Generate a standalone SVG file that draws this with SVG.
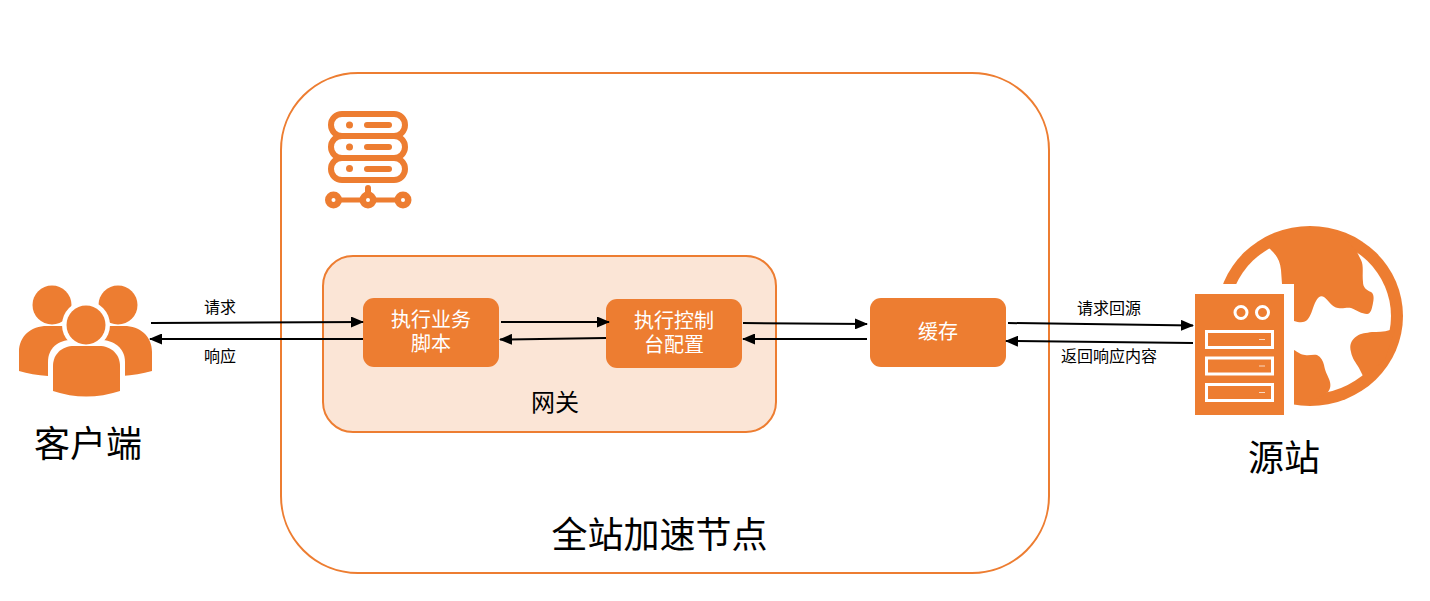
<svg xmlns="http://www.w3.org/2000/svg" width="1430" height="601" viewBox="0 0 1430 601">
<style>
text{font-family:"Liberation Sans","Noto Sans CJK SC",sans-serif;text-anchor:middle;fill:#000}
.o{fill:#ED7D31}
.b{fill:#ED7D31}
.w{fill:#fff;font-size:20px}
.xl{font-size:36px}
.s{font-size:16px}
.c{fill:none;stroke:#000;stroke-width:2;marker-end:url(#a)}
.sv{fill:none;stroke:#ED7D31;stroke-width:6}
</style>
<defs><marker id="a" markerUnits="userSpaceOnUse" markerWidth="13" markerHeight="11" refX="12" refY="5.5" orient="auto"><path d="M0 0L13 5.5L0 11Z" fill="#000"/></marker></defs>
<rect width="1430" height="601" fill="#fff"/>
<g id="edge-node">
<rect x="281" y="73" width="768" height="500" rx="77" fill="#fff" stroke="#ED7D31" stroke-width="2"/>
<text class="xl" x="659.500" y="548">全站加速节点</text>
</g>
<g id="gateway-icon">
<rect class="sv" x="331" y="114" width="74" height="22" rx="11"/>
<rect class="sv" x="331" y="136" width="74" height="22" rx="11"/>
<rect class="sv" x="331" y="158" width="74" height="22" rx="11"/>
<g class="o">
<circle cx="349.500" cy="125" r="3.500"/><circle cx="349.500" cy="147" r="3.500"/><circle cx="349.500" cy="168.500" r="3.500"/>
<rect x="364" y="122" width="28" height="6" rx="3"/><rect x="364" y="144" width="28" height="6" rx="3"/><rect x="364" y="166" width="28" height="6" rx="3"/>
<rect x="365" y="185" width="6" height="14" rx="3"/>
<rect x="333" y="197.500" width="70" height="5"/>
<circle cx="333.500" cy="200" r="8.500"/><circle cx="368" cy="200" r="8.500"/><circle cx="403" cy="200" r="8.500"/>
</g>
<circle cx="333.500" cy="200" r="2" fill="#fff"/><circle cx="368" cy="200" r="2" fill="#fff"/><circle cx="403" cy="200" r="2" fill="#fff"/>
</g>
<g id="gateway">
<rect x="323" y="256" width="453" height="176" rx="30" fill="#FBE5D6" stroke="#ED7D31" stroke-width="2"/>
<text x="555" y="411" font-size="24">网关</text>
</g>
<g id="script">
<rect class="b" x="363" y="298" width="136" height="69" rx="11"/>
<text class="w" x="431" y="327">执行业务<tspan x="431" dy="24">脚本</tspan></text>
</g>
<g id="console">
<rect class="b" x="606" y="299" width="136" height="69" rx="11"/>
<text class="w" x="674" y="328">执行控制<tspan x="674" dy="24">台配置</tspan></text>
</g>
<g id="cache">
<rect class="b" x="870" y="298" width="136" height="69" rx="11"/>
<text class="w" x="938" y="339">缓存</text>
</g>
<g id="client">
<g class="o">
<circle cx="52" cy="305" r="19.500"/><circle cx="118" cy="305" r="19.500"/>
<path d="M19 371V352C19 336 31 326 47 326H70L72 326Q76 340 90 346L90 380L48 376Q32 375 19 371Z"/>
<path d="M152 371V352C152 336 140 326 124 326H100L98 326Q94 340 80 346L80 380L122 376Q138 375 152 371Z"/>
</g>
<path d="M48 398V362C48 348 58 340 72 340H100C114 340 125 348 125 362V398Z" fill="#fff"/>
<circle cx="86" cy="325" r="24" fill="#fff"/>
<circle class="o" cx="86" cy="325" r="19.500"/>
<path class="o" d="M53 391V366C53 354 62 346 74 346H99C111 346 120 354 120 366V391Q86 402 53 391Z"/>
<text class="xl" x="88" y="457">客户端</text>
</g>
<g id="origin">
<ellipse class="o" cx="1310" cy="316" rx="93" ry="90"/>
<ellipse cx="1310" cy="316" rx="81" ry="78" fill="#fff"/>
<path class="o" d="M1269 248C1276 254 1280 260 1281 270L1282 284H1294V321C1300 323 1305 323 1308 319C1312 314 1313 306 1316 301C1318 297 1321 295 1324 297C1329 301 1332 307 1338 308C1343 309 1347 307 1351 308C1356 310 1362 314 1367 314C1371 314 1372 308 1373 303C1374 298 1374 294 1371 292C1366 290 1363 287 1363 282C1362 274 1364 266 1361 260L1357 252L1340 232H1285Z"/>
<path class="o" d="M1294 350C1298 352 1301 355 1305 355C1309 356 1313 354 1317 355C1321 357 1323 361 1324 365C1325 371 1327 374 1329 379C1331 384 1331 388 1328 392L1315 400L1300 402L1294 400Z"/>
<path class="o" d="M1390 330C1384 332 1377 332 1372 332C1366 333 1361 333 1357 336C1351 340 1349 345 1351 352C1352 358 1356 363 1359 368L1363 376L1385 360L1395 330Z"/>
<rect x="1185" y="284" width="109" height="130" fill="#fff"/>
<rect class="o" x="1195" y="294" width="89" height="121"/>
<g fill="none" stroke="#fff" stroke-width="3">
<circle cx="1241" cy="312.500" r="6"/><circle cx="1262.500" cy="312.500" r="6"/>
<rect x="1206.500" y="331.500" width="66" height="16"/>
<rect x="1206.500" y="358" width="66" height="16"/>
<rect x="1206.500" y="384.500" width="66" height="16"/>
</g>
<g stroke="#fff" stroke-width="1" opacity=".7"><path d="M1259 339.500h6M1259 366h6M1259 392.500h6"/></g>
<text class="xl" x="1284" y="471">源站</text>
</g>
<g id="connectors">
<path class="c" d="M151 323L363 322"/>
<path class="c" d="M363 339H150"/>
<path class="c" d="M501 322H609"/>
<path class="c" d="M606 338L500 339.500"/>
<path class="c" d="M743 323L867 324"/>
<path class="c" d="M867 339H743"/>
<path class="c" d="M1008 323L1193 325.500"/>
<path class="c" d="M1193 343L1006 341"/>
</g>
<g id="connector-labels">
<text class="s" x="220" y="313">请求</text>
<text class="s" x="220" y="362">响应</text>
<text class="s" x="1109" y="314">请求回源</text>
<text class="s" x="1109" y="362">返回响应内容</text>
</g>
</svg>
